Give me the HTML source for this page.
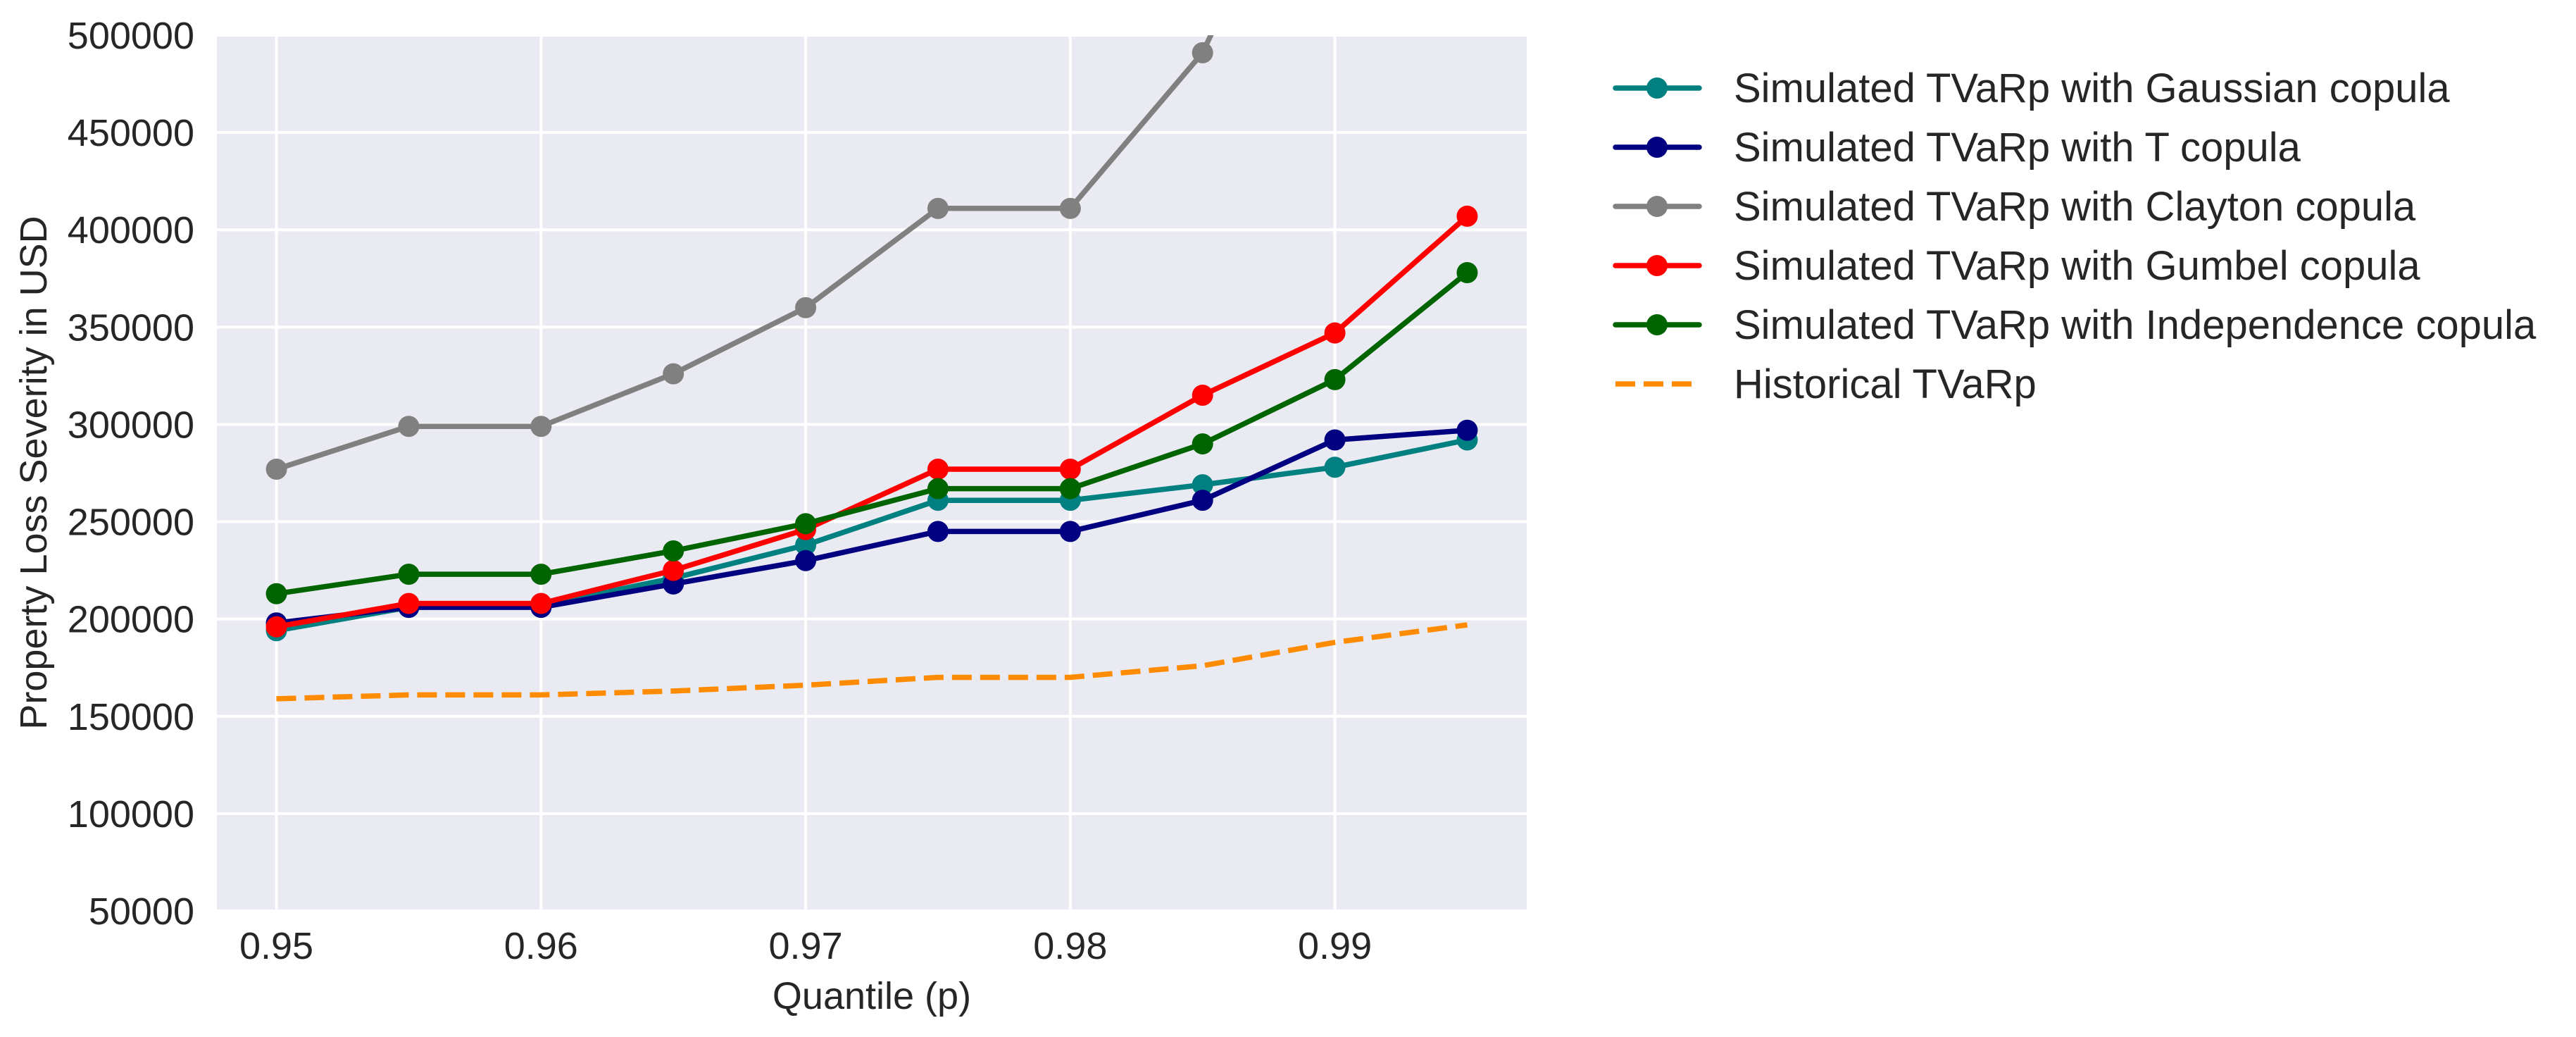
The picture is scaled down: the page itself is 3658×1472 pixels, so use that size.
<!DOCTYPE html>
<html><head><meta charset="utf-8">
<style>
html,body{margin:0;padding:0;background:#fff;}
svg{display:block;font-family:"Liberation Sans",Arial,sans-serif;}
</style></head>
<body>
<svg id="chart" width="3658" height="1472" viewBox="0 0 3658 1472" xmlns="http://www.w3.org/2000/svg">
<rect x="308" y="50" width="1860" height="1243" fill="#eaeaf2"/>
<g id="grid"></g>
<g id="ticks"></g>
<defs><clipPath id="clip"><rect x="308" y="50" width="1860" height="1243"/></clipPath></defs>
<g id="series" clip-path="url(#clip)"></g>
<text x="1238" y="1432" font-size="54" fill="#262626" text-anchor="middle">Quantile (p)</text>
<text transform="translate(66,671) rotate(-90)" font-size="54" fill="#262626" text-anchor="middle">Property Loss Severity in USD</text>
<g id="legend"></g>
</svg>
<script>
const quantiles = [0.95,0.955,0.96,0.965,0.97,0.975,0.98,0.985,0.99,0.995];
const gaussian = [194000,206000,207000,221000,238000,261000,261000,269000,278000,292000];
const tcop = [198000,206000,206000,218000,230000,245000,245000,261000,292000,297000];
const clayton = [277000,299000,299000,326000,360000,411000,411000,491000,636000,780000];
const gumbel = [196000,208000,208000,225000,246000,277000,277000,315000,347000,407000];
const independence = [213000,223000,223000,235000,249000,267000,267000,290000,323000,378000];
const historical = [159000,161000,161000,163000,166000,170000,170000,176000,188000,197000];
const xTicks = [0.95,0.96,0.97,0.98,0.99];
const xTickLabels = ["0.95","0.96","0.97","0.98","0.99"];
const yTicks = [50000,100000,150000,200000,250000,300000,350000,400000,450000,500000];
const seriesNames = ["Simulated TVaRp with Gaussian copula","Simulated TVaRp with T copula","Simulated TVaRp with Clayton copula","Simulated TVaRp with Gumbel copula","Simulated TVaRp with Independence copula","Historical TVaRp"];

const NS="http://www.w3.org/2000/svg";
const L=308,R=2168,T=50,B=1293;
const xMin=0.94775,xMax=0.99725,yMin=50000,yMax=500000;
const xs=v=>L+(v-xMin)/(xMax-xMin)*(R-L);
const ys=v=>B-(v-yMin)/(yMax-yMin)*(B-T);
function mk(tag,attrs,parent){const e=document.createElementNS(NS,tag);for(const k in attrs)e.setAttribute(k,attrs[k]);parent.appendChild(e);return e;}

const grid=document.getElementById('grid'),ticks=document.getElementById('ticks');
xTicks.forEach((v,i)=>{
  const l=mk('line',{x1:xs(v),x2:xs(v),y1:T,y2:B,stroke:'#fff','stroke-width':4},grid);
  
  
  const t=mk('text',{x:xs(v),y:1361,'font-size':54,fill:'#262626','text-anchor':'middle'},ticks);
  t.textContent=xTickLabels[i];
  
  
});
yTicks.forEach(v=>{
  const l=mk('line',{x1:L,x2:R,y1:ys(v),y2:ys(v),stroke:'#fff','stroke-width':4},grid);
  
  
  const t=mk('text',{x:276,y:ys(v)+19,'font-size':54,fill:'#262626','text-anchor':'end'},ticks);
  t.textContent=String(v);
  
  
});

const seriesData=[gaussian,tcop,clayton,gumbel,independence,historical];
const colors=["#008080","#000080","#808080","#ff0000","#006400","#ff8c00"];
const keys=["gaussian","t","clayton","gumbel","independence","historical"];
const sg=document.getElementById('series');
seriesData.forEach((d,si)=>{
  const g=mk('g',{},sg);
  
  
  const pts=d.map((v,i)=>xs(quantiles[i]).toFixed(1)+','+ys(v).toFixed(1)).join(' ');
  const dashed=si===5;
  const pl=mk('polyline',{points:pts,fill:'none',stroke:colors[si],'stroke-width':7.5,'stroke-linejoin':'round','stroke-dasharray':dashed?'28 12':'none'},g);
  
  
  if(!dashed){d.forEach((v,i)=>{
    const c=mk('circle',{cx:xs(quantiles[i]),cy:ys(v),r:15,fill:colors[si]},g);
    
    
  });}
});

const lg=document.getElementById('legend');
seriesNames.forEach((n,i)=>{
  const y=125+i*84;
  const g=mk('g',{},lg);
  
  
  const dashed=i===5;
  mk('line',{x1:2294,x2:2413,y1:y,y2:y,stroke:colors[i],'stroke-width':7.5,'stroke-linecap':dashed?'butt':'round','stroke-dasharray':dashed?'28 12':'none'},g);
  if(!dashed)mk('circle',{cx:2353,cy:y,r:15,fill:colors[i]},g);
  const t=mk('text',{x:2462,y:y+20,'font-size':58,fill:'#262626'},g);
  t.textContent=n;
});
</script>
</body></html>
